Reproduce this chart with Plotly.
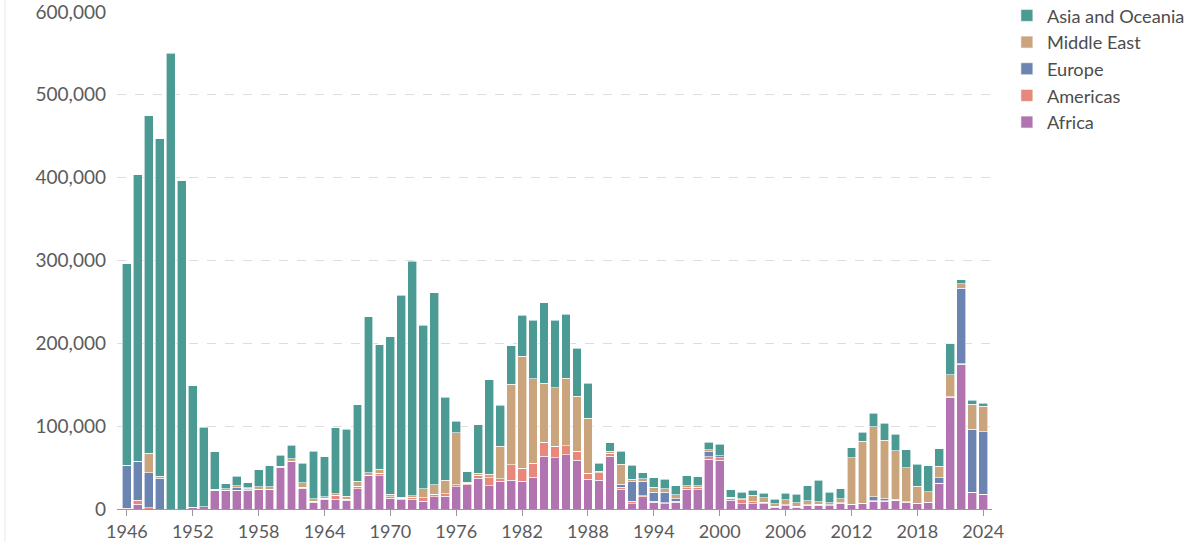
import plotly.graph_objects as go

years = list(range(1946, 2025))

# values in thousands of deaths
africa = [0, 6, 0, 0, 0, 0, 2, 2.5, 22.5, 22.5,
          22.5, 22.5, 23.3, 23.3, 50.6, 57, 25.3, 8, 12, 11.6,
          10.4, 24.5, 40, 40, 13, 11, 12, 9.5, 15, 15.5,
          27, 29, 37, 28, 33.5, 34.5, 33.7, 38.5, 63.5, 62,
          65.5, 59, 35.7, 34.5, 63.5, 24, 6.4, 15, 8.4, 6.4,
          8.4, 23.7, 23.3, 60, 58.6, 10.4, 6.4, 6.4, 6.4, 2.4,
          4, 2.4, 4.4, 4.8, 4, 7, 5.4, 6.2, 9.5, 9.5,
          10.3, 8.2, 6.2, 7.4, 30.4, 135, 175, 20, 17.5]

americas = [1, 4.8, 1.5, 0, 0, 0, 0, 0, 0, 0,
            0, 0.5, 0.5, 0.5, 0.5, 0.5, 1, 1.5, 1, 4.8,
            1.5, 2.8, 1, 3, 2, 2, 2, 4, 3, 3,
            2, 2, 4, 10, 3, 19, 15.7, 17, 17, 13.7,
            11, 11, 7.6, 9, 4, 2, 3, 1, 1, 1,
            1, 2, 2.5, 3, 3, 2.4, 4.8, 2.4, 1.6, 1,
            1, 1, 1, 1, 1, 0.5, 0.5, 0.5, 0.5, 0.5,
            0.5, 0.5, 0.5, 0.5, 0.5, 0.5, 0.5, 0.5, 0.5]

europe = [52, 47, 42, 37, 0, 0, 0, 0, 0, 0,
          3, 2, 0, 0, 0, 0, 0, 0, 0, 0,
          0, 0, 0, 0, 0, 0, 0, 0, 0, 0,
          0, 0, 0, 0, 0, 0, 0, 0, 0, 0,
          0, 0, 0, 0, 0, 4, 23.7, 17.7, 11, 12.9,
          2.8, 0, 0.5, 6.4, 2.4, 0.5, 0, 0, 0, 0,
          0, 0, 0, 0, 0, 0, 0, 0.5, 4.8, 2.4,
          1, 0.3, 0, 0, 6.8, 0.3, 91.3, 76, 75.2]

middle_east = [0, 0, 24, 2.8, 0, 0, 0, 0, 1.6, 2,
               2.8, 0.5, 3.2, 3.2, 0.5, 3.2, 5.2, 3, 1.6, 2,
               3.2, 6, 3, 5, 3, 1, 2, 11, 11, 16,
               63, 1, 2, 4, 39, 97, 135, 102, 71.5, 70.7,
               81.5, 66, 66, 2, 2.5, 24, 3, 3, 5.6, 4,
               5, 2.4, 2, 2, 0.5, 1, 1, 7.6, 5.6, 3,
               6.4, 4, 4.4, 2.8, 2.4, 5, 56, 74.4, 84.5, 70.8,
               58.8, 40.6, 21, 12.9, 14, 26, 5.2, 29.8, 31]

asia_oceania = [243, 346, 407.5, 407, 550, 396, 147, 96.5, 45, 6,
                11.5, 6, 20.4, 25, 13, 16.3, 24, 57, 48.4, 79.6,
                81, 92.7, 188, 150, 190, 244, 283, 197.5, 232, 100.5,
                14, 13, 59, 114, 49.5, 46.5, 49.6, 70.5, 97, 81.6,
                77, 58, 42.7, 9.5, 10, 16, 16.9, 7.3, 12, 11.7,
                10.8, 11.9, 10.7, 9.3, 13.5, 9, 7.8, 6.1, 5.7, 5.2,
                7.9, 10.6, 18.2, 25.9, 12.6, 11.9, 11.9, 11.2, 16.4, 20.4,
                19.4, 21.8, 26.3, 31.2, 20.9, 37.6, 4.7, 4.7, 3.6]

series = [
    ("Africa", africa, "#b274b0"),
    ("Americas", americas, "#e8887a"),
    ("Europe", europe, "#6b84b2"),
    ("Middle East", middle_east, "#c9a47c"),
    ("Asia and Oceania", asia_oceania, "#4b9b94"),
]

tick_years = [1946, 1952, 1958, 1964, 1970, 1976, 1982, 1988, 1994, 2000, 2006, 2012, 2018, 2024]

fig = go.Figure()
for name, vals, color in series:
    fig.add_trace(go.Bar(
        x=years,
        y=[v * 1000 for v in vals],
        name=name,
        marker=dict(color=color, line=dict(color="white", width=0.6)),
    ))

font_family = "Lato, 'Open Sans', sans-serif"
fig.update_layout(
    width=1200, height=542,
    barmode="stack",
    bargap=0.2,
    paper_bgcolor="white",
    plot_bgcolor="white",
    margin=dict(l=117, r=208, t=12, b=33, autoexpand=False),
    font=dict(family=font_family, color="#5b5b5b", size=17),
    legend=dict(
        traceorder="reversed",
        x=1.017, xanchor="left",
        y=1.03, yanchor="top",
        font=dict(size=18.2, color="#4d4d4d"),
        bgcolor="rgba(0,0,0,0)",
        itemclick=False,
    ),
    xaxis=dict(
        range=[1945.1, 2024.8],
        tickmode="array",
        tickvals=tick_years,
        ticktext=[str(y) for y in tick_years],
        ticks="outside",
        ticklen=6,
        tickcolor="#999999",
        showline=True,
        linecolor="#999999",
        linewidth=1,
        showgrid=False,
        zeroline=False,
        ticklabeloverflow="allow",
        tickfont=dict(size=18, color="#5b5b5b"),
    ),
    yaxis=dict(
        range=[0, 600000],
        tickvals=[0, 100000, 200000, 300000, 400000, 500000, 600000],
        tickformat=",",
        showgrid=True,
        gridcolor="#dddddd",
        griddash="dash",
        gridwidth=1,
        zeroline=False,
        showline=False,
        ticks="",
        ticklabelstandoff=10,
        ticklabeloverflow="allow",
        tickfont=dict(size=19, color="#5b5b5b"),
    ),
    shapes=[dict(type="line", xref="paper", yref="paper",
                 x0=-0.128, x1=-0.128, y0=-0.07, y1=1.03,
                 line=dict(color="#e8e8e8", width=1))],
)

fig.write_html(
    "out.html",
    config={"displayModeBar": False},
    post_script="document.body.style.margin='0';document.body.style.overflow='hidden';",
)
